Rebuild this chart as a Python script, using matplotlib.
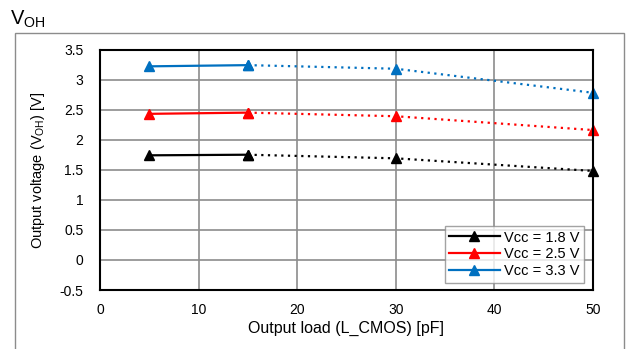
import matplotlib
matplotlib.use("Agg")
import matplotlib.pyplot as plt
from matplotlib.patches import Rectangle

plt.rcParams["font.family"] = ["Liberation Sans", "DejaVu Sans"]

load_pf = [5, 15, 30, 50]
v_18 = [1.74, 1.75, 1.69, 1.48]
v_25 = [2.43, 2.45, 2.39, 2.16]
v_33 = [3.22, 3.24, 3.18, 2.78]
series = [
    ("Vcc = 1.8 V", v_18, "#000000"),
    ("Vcc = 2.5 V", v_25, "#ff0000"),
    ("Vcc = 3.3 V", v_33, "#0070c0"),
]
x_ticks = [0, 10, 20, 30, 40, 50]
y_ticks = [-0.5, 0, 0.5, 1, 1.5, 2, 2.5, 3, 3.5]

W, H = 626, 349
fig = plt.figure(figsize=(W / 100, H / 100), dpi=100)
ax = fig.add_axes([100 / W, 1 - 290 / H, 493 / W, 240.5 / H])

# outer frame
fig.patches.append(Rectangle((15 / W, -0.05), 609 / W, 1 - 33 / H + 0.05,
                             transform=fig.transFigure, fill=False,
                             edgecolor="#8c8c8c", linewidth=1.0))
fig.text(10 / W, 1 - 19 / H, "V$_{\\mathregular{OH}}$", fontsize=14.5,
         va="center", ha="left")

for label, vals, col in series:
    ax.plot(load_pf[:2], vals[:2], color=col, lw=1.6, marker="^", ms=7,
            label=label, clip_on=False)
    ax.plot(load_pf[1:], vals[1:], color=col, lw=1.6, ls=(0, (1, 2)),
            marker="^", ms=7, clip_on=False)

ax.set_xlim(0, 50)
ax.set_ylim(-0.5, 3.5)
ax.set_xticks(x_ticks)
ax.set_yticks(y_ticks)
ax.set_yticklabels([f"{t:g}" for t in y_ticks])
ax.grid(True, color="#8c8c8c", lw=1.2)
ax.set_axisbelow(True)
for s in ax.spines.values():
    s.set_linewidth(1.5)
    s.set_color("black")
ax.tick_params(length=0, labelsize=10, pad=9)
ax.tick_params(axis="y", pad=12)
ax.set_xlabel("Output load (L_CMOS) [pF]", fontsize=11.5, labelpad=3)
ax.set_ylabel("Output voltage (V$_{\\mathregular{OH}}$) [V]", fontsize=10.5, labelpad=9)

leg = ax.legend(loc="lower right", fontsize=10.5, frameon=True, fancybox=False,
                borderpad=0.3, labelspacing=0.2, handlelength=3.5,
                handletextpad=0.3, borderaxespad=0.5, bbox_to_anchor=(0.997, 0.0))
leg.get_frame().set_edgecolor("#8c8c8c")
leg.get_frame().set_linewidth(1.0)

fig.savefig("out.png", dpi=100)
